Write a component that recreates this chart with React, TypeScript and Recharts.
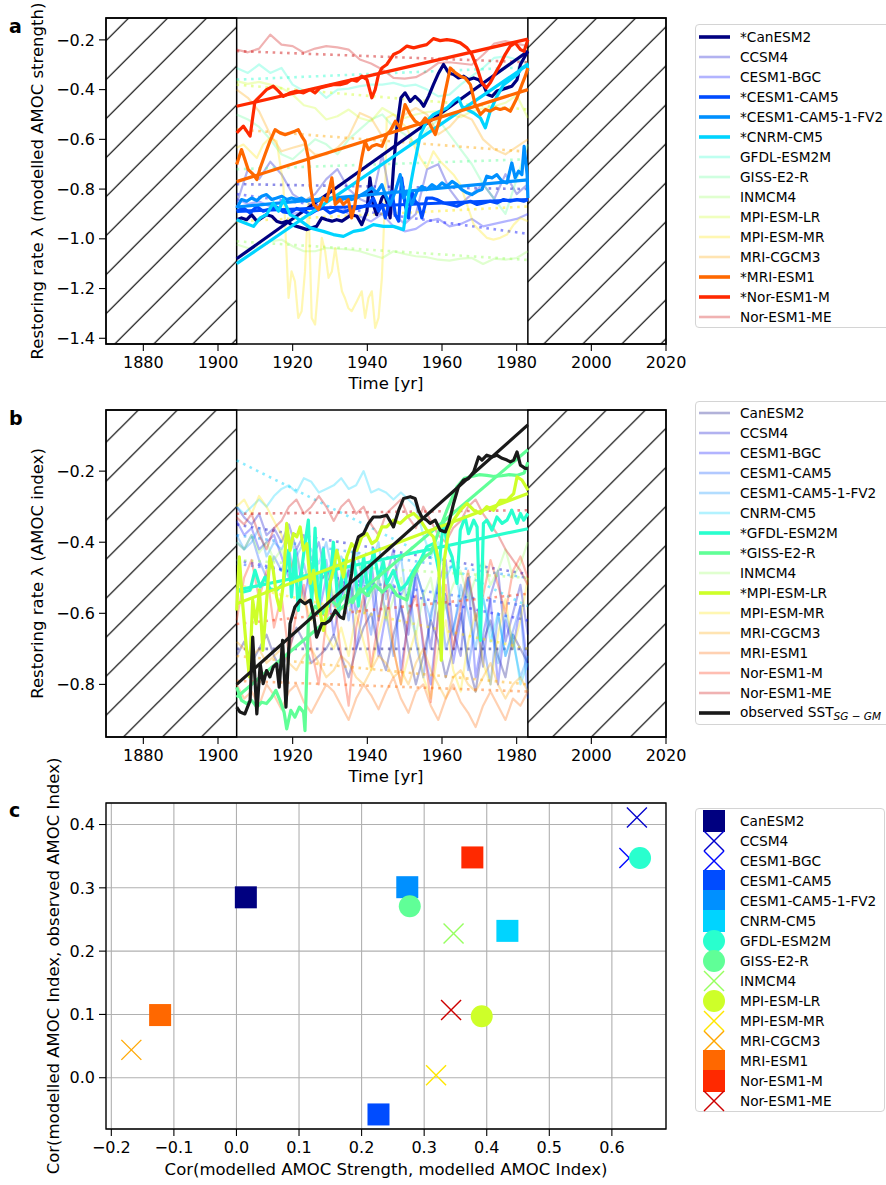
import React from 'react';
import {
  LineChart, Line, XAxis, YAxis, ReferenceArea, Legend, Label,
  ScatterChart, Scatter, CartesianGrid,
} from 'recharts';

const FONT = '"DejaVu Sans", "Liberation Sans", sans-serif';

// ---------------- shared categories ----------------
const MODELS = ['CanESM2', 'CCSM4', 'CESM1-BGC', 'CESM1-CAM5', 'CESM1-CAM5-1-FV2', 'CNRM-CM5', 'GFDL-ESM2M', 'GISS-E2-R', 'INMCM4', 'MPI-ESM-LR', 'MPI-ESM-MR', 'MRI-CGCM3', 'MRI-ESM1', 'Nor-ESM1-M', 'Nor-ESM1-ME'];
const COLORS = ['#000080', '#0000cd', '#0008ff', '#004cff', '#0090ff', '#00d4ff', '#29ffce', '#60ff97', '#97ff60', '#ceff29', '#ffe600', '#ffa700', '#ff6800', '#ff2900', '#cd0000'];
const A_HIGHLIGHT = [0, 3, 4, 5, 12, 13];
const B_HIGHLIGHT = [6, 7, 9];
const WINDOW = [1905, 1983];

const YEAR_TICKS = [1880, 1900, 1920, 1940, 1960, 1980, 2000, 2020];
const A_Y_TICKS = [-1.4, -1.2, -1.0, -0.8, -0.6, -0.4, -0.2];
const B_Y_TICKS = [-0.8, -0.6, -0.4, -0.2];
const C_X_TICKS = [-0.2, -0.1, 0, 0.1, 0.2, 0.3, 0.4, 0.5, 0.6];
const C_Y_TICKS = [0, 0.1, 0.2, 0.3, 0.4];

// ---------------- panel a : modelled AMOC strength ----------------
const YEARS_A = [1905, 1908, 1911, 1914, 1917, 1920, 1923, 1926, 1929, 1932, 1935, 1938, 1941, 1944, 1947, 1950, 1953, 1956, 1959, 1962, 1965, 1968, 1971, 1974, 1977, 1980, 1983];

const A_CANESM2 = [[1905, -0.923], [1906.3, -0.916], [1907.7, -0.923], [1909, -0.903], [1910.4, -0.929], [1911.7, -0.916], [1913, -0.903], [1914.4, -0.909], [1915.7, -0.929], [1917.1, -0.936], [1918.4, -0.929], [1919.7, -0.943], [1921.1, -0.95], [1922.4, -0.956], [1923.8, -0.963], [1925.1, -0.956], [1926.4, -0.95], [1927.8, -0.916], [1929.1, -0.923], [1930.5, -0.929], [1931.8, -0.923], [1933.2, -0.929], [1934.5, -0.916], [1935.8, -0.903], [1937.2, -0.909], [1938.5, -0.943], [1939.9, -0.889], [1940.7, -0.755], [1941.6, -0.862], [1942.5, -0.903], [1943.9, -0.836], [1944.6, -0.82], [1945.4, -0.86], [1946.1, -0.916], [1947, -0.715], [1947.9, -0.554], [1949, -0.433], [1950.1, -0.413], [1951.5, -0.447], [1952.8, -0.427], [1954.2, -0.447], [1955.1, -0.467], [1956.4, -0.427], [1957.7, -0.38], [1959.1, -0.333], [1960.4, -0.299], [1961.8, -0.333], [1963.1, -0.339], [1964.4, -0.353], [1965.8, -0.346], [1967.1, -0.36], [1968.5, -0.353], [1969.8, -0.36], [1971.1, -0.38], [1972.2, -0.42], [1973.4, -0.427], [1974.7, -0.406], [1976.1, -0.4], [1977.4, -0.393], [1978.7, -0.386], [1980.1, -0.36], [1981, -0.299], [1982, -0.272], [1983, -0.246]];
const A_CCSM4 = [-0.86, -0.72, -0.76, -0.69, -0.74, -0.82, -0.85, -0.82, -0.76, -0.72, -0.8, -0.84, -0.86, -0.66, -0.9, -0.94, -0.9, -0.72, -0.7, -0.8, -0.86, -0.82, -0.78, -0.84, -0.74, -0.82, -0.78];
const A_CESM1_BGC = [-0.84, -0.86, -0.85, -0.87, -0.88, -0.9, -0.89, -0.86, -0.88, -0.87, -0.9, -0.91, -0.93, -0.9, -0.95, -0.97, -0.96, -0.93, -0.92, -0.95, -0.94, -0.92, -0.95, -0.94, -0.93, -0.92, -0.9];
const A_CESM1_CAM5 = [[1905, -0.889], [1906.8, -0.876], [1908.6, -0.896], [1910.4, -0.87], [1912.1, -0.889], [1913.9, -0.88], [1915.7, -0.872], [1917.5, -0.892], [1919.3, -0.896], [1921.1, -0.878], [1922.9, -0.889], [1924.7, -0.9], [1926.4, -0.885], [1928.2, -0.876], [1930, -0.896], [1931.8, -0.884], [1933.6, -0.893], [1935.4, -0.882], [1937.2, -0.878], [1939, -0.87], [1940.3, -0.862], [1941.6, -0.836], [1943, -0.889], [1944, -0.862], [1944.8, -0.916], [1945.7, -0.862], [1946.6, -0.809], [1947.5, -0.903], [1948.4, -0.929], [1949.2, -0.755], [1950.1, -0.862], [1951, -0.916], [1951.9, -0.809], [1952.8, -0.849], [1953.7, -0.862], [1954.6, -0.916], [1955.9, -0.836], [1957.3, -0.836], [1958.6, -0.842], [1960.4, -0.856], [1962.2, -0.862], [1964, -0.869], [1965.8, -0.856], [1967.6, -0.849], [1969.4, -0.862], [1971.1, -0.856], [1972.9, -0.849], [1974.7, -0.856], [1976.5, -0.842], [1978.3, -0.849], [1980.1, -0.842], [1981.9, -0.849], [1983, -0.842]];
const A_CESM1_CAM5_FV2 = [[1905, -0.876], [1906.3, -0.842], [1907.7, -0.849], [1909, -0.836], [1910.4, -0.846], [1911.7, -0.829], [1913, -0.822], [1914.4, -0.842], [1915.7, -0.836], [1917.1, -0.829], [1918.4, -0.842], [1919.7, -0.836], [1921.1, -0.842], [1922.4, -0.836], [1923.8, -0.849], [1925.1, -0.842], [1926.4, -0.849], [1927.8, -0.836], [1929.1, -0.842], [1930.5, -0.836], [1931.8, -0.846], [1933.2, -0.842], [1934.5, -0.836], [1935.8, -0.842], [1937.2, -0.836], [1938.5, -0.822], [1939.9, -0.809], [1941.2, -0.795], [1942.5, -0.815], [1943.9, -0.782], [1944.8, -0.822], [1946.1, -0.862], [1947.5, -0.809], [1948.8, -0.742], [1949.7, -0.836], [1950.6, -0.809], [1951.9, -0.862], [1953.3, -0.809], [1954.6, -0.789], [1955.9, -0.802], [1957.3, -0.782], [1958.6, -0.795], [1960, -0.775], [1961.3, -0.789], [1962.7, -0.769], [1964, -0.782], [1965.3, -0.802], [1966.7, -0.815], [1968, -0.822], [1969.4, -0.809], [1970.7, -0.802], [1972, -0.748], [1973.4, -0.755], [1974.7, -0.742], [1976.1, -0.769], [1977.4, -0.775], [1978.7, -0.695], [1979.6, -0.755], [1980.5, -0.728], [1981.4, -0.742], [1982, -0.628], [1982.8, -0.742], [1983, -0.836]];
const A_CNRM_CM5 = [[1905, -0.923], [1907.2, -0.936], [1909.5, -0.95], [1911.3, -0.916], [1913, -0.903], [1914.8, -0.856], [1916.2, -0.889], [1917.5, -0.842], [1919.3, -0.903], [1921.1, -0.916], [1922.9, -0.936], [1924.7, -0.956], [1926.4, -0.963], [1928.2, -0.97], [1930.9, -0.983], [1933.6, -0.99], [1936.3, -0.97], [1939, -0.963], [1941.6, -0.943], [1944.3, -0.95], [1947, -0.95], [1949.7, -0.963], [1950.6, -0.862], [1952.4, -0.715], [1954.2, -0.581], [1955.9, -0.527], [1957.7, -0.5], [1959.5, -0.487], [1961.3, -0.474], [1963.1, -0.447], [1964.4, -0.433], [1965.3, -0.467], [1966.7, -0.48], [1968.5, -0.494], [1970.3, -0.514], [1971.6, -0.554], [1972.9, -0.487], [1974.7, -0.427], [1976.5, -0.38], [1978.3, -0.36], [1980.1, -0.339], [1981.4, -0.313], [1982.8, -0.299], [1983, -0.326]];
const A_GFDL_ESM2M = [-0.313, -0.333, -0.299, -0.333, -0.313, -0.38, -0.406, -0.393, -0.433, -0.4, -0.396, -0.386, -0.38, -0.38, -0.373, -0.386, -0.38, -0.4, -0.427, -0.42, -0.38, -0.346, -0.313, -0.272, -0.266, -0.279, -0.293];
const A_GISS_E2_R = [-0.5, -0.52, -0.55, -0.6, -0.66, -0.68, -0.64, -0.6, -0.62, -0.66, -0.6, -0.56, -0.52, -0.5, -0.55, -0.58, -0.62, -0.56, -0.52, -0.58, -0.64, -0.7, -0.78, -0.84, -0.9, -0.76, -0.62];
const A_INMCM4 = [-1.023, -1.037, -1.034, -1.01, -1.003, -1.03, -1.05, -1.05, -1.037, -1.04, -1.043, -1.05, -1.064, -1.077, -1.05, -1.061, -1.07, -1.074, -1.084, -1.088, -1.08, -1.077, -1.101, -1.08, -1.084, -1.077, -1.05];
const A_MPI_ESM_LR = [-0.366, -0.377, -0.369, -0.38, -0.393, -0.42, -0.463, -0.474, -0.52, -0.507, -0.48, -0.514, -0.527, -0.474, -0.5, -0.514, -0.5, -0.49, -0.487, -0.5, -0.511, -0.487, -0.476, -0.467, -0.453, -0.423, -0.514];
const A_MPI_ESM_MR = [[1905, -0.634], [1906.8, -0.621], [1908.6, -0.648], [1910.4, -0.675], [1912.1, -0.621], [1913.9, -0.594], [1915.7, -0.608], [1917.5, -0.782], [1918.9, -1.238], [1919.7, -1.131], [1920.6, -1.171], [1921.5, -1.318], [1922.4, -1.291], [1923.3, -1.131], [1924.2, -0.836], [1925.1, -1.318], [1926, -1.345], [1926.9, -1.184], [1927.8, -0.996], [1928.7, -1.05], [1929.6, -1.157], [1930.5, -1.131], [1931.4, -1.037], [1932.3, -1.131], [1933.2, -1.211], [1934, -1.238], [1934.9, -1.278], [1935.8, -1.291], [1937.2, -1.251], [1938.5, -1.211], [1939.4, -1.318], [1940.3, -1.238], [1941.2, -1.211], [1942.1, -1.358], [1943, -1.318], [1943.9, -1.157], [1944.8, -0.809], [1945.2, -0.514], [1947, -0.5], [1948.8, -0.527], [1950.6, -0.554], [1952.4, -0.621], [1954.2, -0.675], [1955.9, -0.715], [1957.7, -0.648], [1959.5, -0.688], [1961.3, -0.715], [1963.1, -0.742], [1964.9, -0.782], [1966.7, -0.862], [1968.5, -0.943], [1970.3, -0.97], [1972, -0.996], [1973.8, -1.003], [1975.6, -0.996], [1977.4, -0.983], [1979.2, -0.943], [1981, -0.916], [1983, -0.929]];
const A_MRI_CGCM3 = [-0.4, -0.433, -0.487, -0.581, -0.648, -0.634, -0.621, -0.661, -0.661, -0.634, -0.588, -0.494, -0.514, -0.588, -0.554, -0.5, -0.474, -0.5, -0.58, -0.55, -0.5, -0.52, -0.6, -0.64, -0.66, -0.63, -0.6];
const A_MRI_ESM1 = [[1905, -0.701], [1906.3, -0.641], [1907.2, -0.681], [1908.1, -0.722], [1909.5, -0.742], [1910.4, -0.762], [1911.3, -0.715], [1912.6, -0.661], [1913.9, -0.608], [1915.3, -0.561], [1916.6, -0.574], [1918, -0.581], [1919.3, -0.574], [1920.6, -0.567], [1921.5, -0.561], [1922.4, -0.587], [1923.3, -0.608], [1924.2, -0.675], [1924.8, -0.795], [1925.6, -0.862], [1926.9, -0.882], [1928.2, -0.836], [1929.1, -0.849], [1930.5, -0.755], [1931.4, -0.862], [1932.7, -0.842], [1933.6, -0.862], [1934.9, -0.842], [1935.8, -0.916], [1936.7, -0.862], [1937.6, -0.755], [1938.5, -0.675], [1939.4, -0.608], [1940.3, -0.641], [1941.2, -0.628], [1942.5, -0.621], [1943.9, -0.628], [1945.2, -0.581], [1946.1, -0.567], [1947.5, -0.527], [1948.8, -0.554], [1950.1, -0.46], [1951.5, -0.5], [1952.8, -0.527], [1954.2, -0.541], [1955.5, -0.514], [1956.8, -0.541], [1958.2, -0.581], [1959.5, -0.514], [1960.9, -0.406], [1962.2, -0.313], [1963.6, -0.333], [1964.9, -0.346], [1966.2, -0.353], [1967.6, -0.38], [1968.9, -0.46], [1970.3, -0.5], [1971.6, -0.48], [1972.9, -0.487], [1974.3, -0.474], [1975.6, -0.48], [1976.9, -0.474], [1978.3, -0.487], [1979.2, -0.46], [1980.1, -0.433], [1981.4, -0.38], [1982.3, -0.346], [1983, -0.313]];
const A_NOR_ESM1_M = [[1905, -0.574], [1906.8, -0.547], [1908.6, -0.587], [1909.9, -0.447], [1911.7, -0.42], [1913, -0.4], [1914.8, -0.386], [1916.2, -0.406], [1917.5, -0.427], [1919.3, -0.413], [1921.1, -0.406], [1922.9, -0.413], [1924.7, -0.4], [1926, -0.413], [1927.3, -0.393], [1929.1, -0.386], [1930.9, -0.38], [1932.7, -0.38], [1934.5, -0.373], [1935.8, -0.36], [1937.2, -0.366], [1938.5, -0.346], [1939.9, -0.36], [1941.2, -0.433], [1942.1, -0.4], [1943, -0.339], [1943.9, -0.313], [1945.2, -0.299], [1947, -0.259], [1948.8, -0.246], [1950.6, -0.225], [1952.4, -0.232], [1954.2, -0.225], [1955.9, -0.219], [1957.7, -0.195], [1959.5, -0.203], [1961.3, -0.199], [1963.1, -0.203], [1964.9, -0.212], [1966.7, -0.232], [1968, -0.259], [1969.4, -0.313], [1970.7, -0.373], [1971.9, -0.393], [1972.9, -0.373], [1974.3, -0.333], [1975.6, -0.299], [1976.9, -0.259], [1978.3, -0.225], [1979.6, -0.212], [1981, -0.239], [1982, -0.246], [1983, -0.199]];
const A_NOR_ESM1_ME = [-0.239, -0.25, -0.235, -0.179, -0.219, -0.225, -0.252, -0.235, -0.225, -0.23, -0.239, -0.279, -0.295, -0.319, -0.353, -0.356, -0.35, -0.326, -0.293, -0.29, -0.295, -0.3, -0.26, -0.215, -0.205, -0.215, -0.225];
const A_TREND_START = [-1.08, -0.78, -0.82, -0.89, -0.872, -1.10, -0.36, -0.72, -1.01, -0.38, -0.93, -0.56, -0.77, -0.467, -0.245];
const A_TREND_END = [-0.246, -0.80, -0.98, -0.842, -0.763, -0.30, -0.31, -0.68, -1.085, -0.48, -0.87, -0.65, -0.40, -0.197, -0.29];

// ---------------- panel b : modelled AMOC index ----------------
const YEARS_B = [1905, 1907, 1909, 1911, 1913, 1915, 1917, 1919, 1921, 1923, 1925, 1927, 1929, 1931, 1933, 1935, 1937, 1939, 1941, 1943, 1945, 1947, 1949, 1951, 1953, 1955, 1957, 1959, 1961, 1963, 1965, 1967, 1969, 1971, 1973, 1975, 1977, 1979, 1981, 1983];

const B_CANESM2 = [-0.72, -0.68, -0.74, -0.7, -0.66, -0.72, -0.76, -0.7, -0.64, -0.68, -0.74, -0.72, -0.7, -0.66, -0.72, -0.78, -0.7, -0.64, -0.6, -0.7, -0.76, -0.66, -0.58, -0.7, -0.8, -0.72, -0.62, -0.68, -0.78, -0.7, -0.6, -0.74, -0.82, -0.68, -0.62, -0.72, -0.78, -0.66, -0.7, -0.74];
const B_CCSM4 = [-0.3, -0.33, -0.35, -0.32, -0.38, -0.36, -0.4, -0.35, -0.42, -0.38, -0.45, -0.4, -0.5, -0.44, -0.55, -0.48, -0.6, -0.5, -0.45, -0.62, -0.5, -0.42, -0.58, -0.66, -0.48, -0.55, -0.7, -0.52, -0.45, -0.65, -0.72, -0.5, -0.6, -0.75, -0.55, -0.48, -0.68, -0.6, -0.52, -0.66];
const B_CESM1_BGC = [-0.34, -0.38, -0.36, -0.42, -0.4, -0.38, -0.44, -0.5, -0.42, -0.56, -0.46, -0.6, -0.5, -0.66, -0.55, -0.48, -0.7, -0.58, -0.5, -0.72, -0.6, -0.52, -0.76, -0.62, -0.5, -0.7, -0.8, -0.6, -0.55, -0.74, -0.62, -0.5, -0.78, -0.66, -0.56, -0.8, -0.62, -0.7, -0.58, -0.76];
const B_CESM1_CAM5 = [-0.4, -0.42, -0.38, -0.45, -0.5, -0.44, -0.48, -0.42, -0.52, -0.46, -0.55, -0.5, -0.45, -0.58, -0.5, -0.62, -0.48, -0.55, -0.66, -0.5, -0.6, -0.72, -0.55, -0.5, -0.68, -0.78, -0.6, -0.52, -0.7, -0.64, -0.56, -0.76, -0.62, -0.68, -0.8, -0.6, -0.72, -0.65, -0.58, -0.84];
const B_CESM1_CAM5_FV2 = [-0.38, -0.42, -0.4, -0.36, -0.44, -0.4, -0.42, -0.38, -0.44, -0.4, -0.42, -0.46, -0.4, -0.5, -0.44, -0.48, -0.42, -0.52, -0.46, -0.4, -0.56, -0.5, -0.44, -0.6, -0.48, -0.55, -0.62, -0.5, -0.58, -0.66, -0.52, -0.6, -0.7, -0.56, -0.64, -0.74, -0.6, -0.68, -0.78, -0.72];
const B_CNRM_CM5 = [-0.3, -0.32, -0.3, -0.28, -0.3, -0.27, -0.25, -0.24, -0.26, -0.22, -0.23, -0.26, -0.25, -0.24, -0.22, -0.25, -0.24, -0.2, -0.26, -0.25, -0.26, -0.28, -0.26, -0.28, -0.3, -0.38, -0.44, -0.4, -0.5, -0.46, -0.56, -0.5, -0.62, -0.55, -0.68, -0.6, -0.72, -0.66, -0.8, -0.74];
const B_GFDL_ESM2M = [[1905, -0.535], [1906.8, -0.54], [1908.6, -0.535], [1909.9, -0.479], [1911.3, -0.526], [1912.6, -0.498], [1913.9, -0.531], [1915.7, -0.535], [1917.5, -0.516], [1918.9, -0.423], [1919.7, -0.554], [1920.6, -0.423], [1921.5, -0.592], [1922.4, -0.479], [1923.3, -0.404], [1924.2, -0.338], [1925.1, -0.573], [1926, -0.36], [1926.9, -0.6], [1928.2, -0.42], [1929.6, -0.58], [1930.9, -0.4], [1932.3, -0.6], [1933.6, -0.45], [1934.9, -0.56], [1936.3, -0.43], [1937.6, -0.58], [1939, -0.44], [1940.3, -0.55], [1941.6, -0.42], [1943, -0.5], [1944.3, -0.455], [1945.2, -0.516], [1947, -0.479], [1948.8, -0.535], [1950.6, -0.516], [1952.4, -0.479], [1954.2, -0.451], [1955.9, -0.413], [1957.7, -0.404], [1959.1, -0.479], [1960.4, -0.338], [1961.3, -0.404], [1962.7, -0.441], [1964, -0.516], [1964.9, -0.366], [1966.2, -0.329], [1967.1, -0.376], [1968.5, -0.338], [1969.4, -0.357], [1970.3, -0.676], [1971.1, -0.347], [1972, -0.338], [1973.4, -0.366], [1974.7, -0.329], [1976.1, -0.347], [1977.4, -0.338], [1978.7, -0.31], [1980.1, -0.347], [1981, -0.319], [1981.9, -0.338], [1983, -0.319]];
const B_GISS_E2_R = [[1905, -0.808], [1906.3, -0.845], [1907.7, -0.854], [1909, -0.845], [1910.4, -0.864], [1911.7, -0.85], [1913, -0.854], [1914.4, -0.836], [1915.5, -0.817], [1916.6, -0.845], [1917.7, -0.878], [1918.4, -0.925], [1919.5, -0.873], [1920.6, -0.892], [1921.8, -0.864], [1922.9, -0.878], [1923.3, -0.93], [1924.2, -0.62], [1926, -0.58], [1928, -0.6], [1930, -0.56], [1932, -0.58], [1934, -0.55], [1936, -0.57], [1938, -0.53], [1940, -0.55], [1942, -0.52], [1944, -0.54], [1946, -0.52], [1948, -0.55], [1950.6, -0.563], [1952, -0.5], [1954, -0.46], [1955.5, -0.44], [1957, -0.43], [1958.6, -0.385], [1961.3, -0.31], [1964, -0.244], [1966, -0.22], [1968, -0.215], [1970, -0.21], [1972, -0.212], [1974, -0.215], [1976, -0.213], [1978, -0.21], [1980, -0.212], [1982, -0.205], [1983, -0.175]];
const B_INMCM4 = [-0.4, -0.42, -0.38, -0.43, -0.4, -0.45, -0.42, -0.48, -0.44, -0.5, -0.46, -0.52, -0.48, -0.55, -0.5, -0.58, -0.52, -0.6, -0.55, -0.5, -0.62, -0.56, -0.5, -0.6, -0.66, -0.55, -0.5, -0.62, -0.58, -0.52, -0.48, -0.56, -0.5, -0.45, -0.52, -0.48, -0.42, -0.5, -0.46, -0.4];
const B_MPI_ESM_LR = [[1905, -0.592], [1905.7, -0.441], [1906.6, -0.573], [1907.5, -0.685], [1908.4, -0.779], [1909.3, -0.563], [1910.2, -0.629], [1911.1, -0.535], [1912, -0.704], [1912.9, -0.582], [1913.9, -0.441], [1914.8, -0.479], [1915.7, -0.554], [1916.6, -0.592], [1917.5, -0.516], [1918.4, -0.347], [1919.3, -0.423], [1920.2, -0.376], [1921.1, -0.385], [1922, -0.357], [1922.9, -0.423], [1923.8, -0.404], [1924.7, -0.516], [1925.6, -0.479], [1926.4, -0.554], [1927.3, -0.592], [1928.2, -0.648], [1929.1, -0.592], [1930, -0.516], [1930.9, -0.479], [1931.8, -0.423], [1932.7, -0.46], [1933.6, -0.498], [1934.5, -0.441], [1935.8, -0.404], [1937.2, -0.423], [1938.5, -0.385], [1939.9, -0.376], [1941.2, -0.404], [1942.5, -0.394], [1943.9, -0.357], [1945.2, -0.357], [1947, -0.338], [1948.8, -0.347], [1950.6, -0.329], [1952.4, -0.319], [1954.2, -0.338], [1955.9, -0.366], [1957.7, -0.385], [1959.1, -0.451], [1959.8, -0.732], [1960.6, -0.451], [1961.8, -0.366], [1963.1, -0.338], [1964.9, -0.31], [1966.7, -0.291], [1968.5, -0.31], [1970.3, -0.319], [1972, -0.3], [1973.8, -0.31], [1975.6, -0.282], [1977.4, -0.282], [1979.2, -0.263], [1980.1, -0.216], [1981.4, -0.225], [1982.8, -0.249], [1983, -0.254]];
const B_MPI_ESM_MR = [-0.3, -0.28, -0.32, -0.27, -0.3, -0.34, -0.38, -0.44, -0.5, -0.56, -0.62, -0.58, -0.66, -0.7, -0.64, -0.72, -0.6, -0.68, -0.76, -0.66, -0.58, -0.7, -0.8, -0.72, -0.65, -0.78, -0.84, -0.7, -0.62, -0.76, -0.82, -0.68, -0.6, -0.74, -0.8, -0.66, -0.56, -0.7, -0.62, -0.5];
const B_MRI_CGCM3 = [-0.68, -0.7, -0.72, -0.7, -0.74, -0.72, -0.7, -0.74, -0.76, -0.72, -0.7, -0.74, -0.78, -0.76, -0.72, -0.74, -0.78, -0.8, -0.76, -0.72, -0.74, -0.78, -0.76, -0.8, -0.74, -0.7, -0.76, -0.8, -0.84, -0.78, -0.76, -0.8, -0.82, -0.78, -0.74, -0.8, -0.84, -0.8, -0.78, -0.82];
const B_MRI_ESM1 = [-0.8, -0.84, -0.82, -0.86, -0.8, -0.83, -0.87, -0.82, -0.8, -0.85, -0.88, -0.84, -0.8, -0.82, -0.86, -0.9, -0.84, -0.8, -0.83, -0.87, -0.82, -0.78, -0.84, -0.88, -0.82, -0.8, -0.86, -0.9, -0.84, -0.8, -0.85, -0.88, -0.92, -0.86, -0.82, -0.86, -0.9, -0.84, -0.86, -0.82];
const B_NOR_ESM1_M = [-0.62, -0.5, -0.45, -0.56, -0.48, -0.64, -0.55, -0.72, -0.6, -0.52, -0.7, -0.8, -0.62, -0.55, -0.72, -0.86, -0.64, -0.55, -0.75, -0.62, -0.5, -0.7, -0.8, -0.6, -0.55, -0.68, -0.85, -0.6, -0.52, -0.7, -0.58, -0.48, -0.62, -0.55, -0.45, -0.52, -0.6, -0.48, -0.44, -0.5];
const B_NOR_ESM1_ME = [-0.33, -0.35, -0.32, -0.38, -0.42, -0.36, -0.34, -0.3, -0.28, -0.32, -0.3, -0.27, -0.3, -0.34, -0.3, -0.28, -0.32, -0.3, -0.35, -0.38, -0.32, -0.3, -0.28, -0.33, -0.36, -0.3, -0.34, -0.38, -0.4, -0.36, -0.34, -0.3, -0.28, -0.32, -0.35, -0.38, -0.42, -0.45, -0.48, -0.52];
const B_OBSERVED = [[1905, -0.864], [1905.9, -0.878], [1907.2, -0.883], [1908.6, -0.845], [1909.3, -0.667], [1910.4, -0.883], [1911.3, -0.742], [1912.1, -0.798], [1913, -0.761], [1913.9, -0.779], [1914.8, -0.751], [1915.7, -0.742], [1916.4, -0.808], [1917.3, -0.676], [1918.2, -0.864], [1919.3, -0.629], [1920.6, -0.582], [1922, -0.563], [1923.3, -0.573], [1924.7, -0.563], [1925.7, -0.61], [1926.4, -0.667], [1927.8, -0.629], [1928.7, -0.629], [1930, -0.62], [1931.4, -0.592], [1932.7, -0.61], [1933.6, -0.615], [1934.5, -0.563], [1935.8, -0.488], [1936.5, -0.423], [1937.6, -0.385], [1939, -0.376], [1940.3, -0.347], [1941.6, -0.329], [1943.4, -0.329], [1945.2, -0.324], [1947, -0.357], [1948.4, -0.31], [1949.7, -0.277], [1951.5, -0.272], [1952.8, -0.277], [1953.7, -0.31], [1954.6, -0.329], [1955.9, -0.338], [1956.8, -0.347], [1958.2, -0.338], [1959.5, -0.366], [1960.9, -0.371], [1961.8, -0.347], [1963.1, -0.291], [1964.4, -0.244], [1965.8, -0.225], [1967.1, -0.221], [1968.5, -0.202], [1969.8, -0.16], [1970.7, -0.169], [1972, -0.155], [1973.4, -0.16], [1974.7, -0.155], [1976.1, -0.164], [1977.4, -0.169], [1978.3, -0.174], [1979.2, -0.169], [1980.1, -0.146], [1981, -0.183], [1982.3, -0.192], [1983, -0.192]];
const B_TREND_START = [-0.70, -0.35, -0.45, -0.46, -0.38, -0.17, -0.535, -0.836, -0.45, -0.573, -0.52, -0.72, -0.79, -0.63, -0.32];
const B_TREND_END = [-0.70, -0.49, -0.62, -0.58, -0.50, -0.58, -0.362, -0.14, -0.50, -0.263, -0.70, -0.80, -0.82, -0.545, -0.31];
const OBS_TREND = [-0.80, -0.07];

// ---------------- panel c : correlations ----------------
const C_X = [0.015, 0.640, 0.628, 0.227, 0.273, 0.433, 0.645, 0.277, 0.347, 0.392, 0.319, -0.168, -0.122, 0.377, 0.343];
const C_Y = [0.285, 0.411, 0.347, -0.058, 0.301, 0.232, 0.347, 0.271, 0.228, 0.097, 0.004, 0.044, 0.099, 0.348, 0.107];
const C_MARKERS = ['s', 'x', 'x', 's', 's', 's', 'o', 'o', 'x', 'o', 'x', 'x', 's', 's', 'x'];

// ---------------- helpers ----------------
type P = { x: number; y: number };
const pairs = (a: number[][]): P[] => a.map(([x, y]) => ({ x, y }));
const onGrid = (years: number[], vals: number[]): P[] => vals.map((y, i) => ({ x: years[i], y }));
const trend = (s: number, e: number): P[] => [{ x: WINDOW[0], y: s }, { x: WINDOW[1], y: e }];
const fmt1 = (v: number) => (v < -1e-9 ? '\u2212' : '') + Math.abs(v).toFixed(1);

const A_SERIES: P[][] = [
  pairs(A_CANESM2), onGrid(YEARS_A, A_CCSM4), onGrid(YEARS_A, A_CESM1_BGC), pairs(A_CESM1_CAM5),
  pairs(A_CESM1_CAM5_FV2), pairs(A_CNRM_CM5), onGrid(YEARS_A, A_GFDL_ESM2M), onGrid(YEARS_A, A_GISS_E2_R),
  onGrid(YEARS_A, A_INMCM4), onGrid(YEARS_A, A_MPI_ESM_LR), pairs(A_MPI_ESM_MR), onGrid(YEARS_A, A_MRI_CGCM3),
  pairs(A_MRI_ESM1), pairs(A_NOR_ESM1_M), onGrid(YEARS_A, A_NOR_ESM1_ME),
];
const B_SERIES: P[][] = [
  onGrid(YEARS_B, B_CANESM2), onGrid(YEARS_B, B_CCSM4), onGrid(YEARS_B, B_CESM1_BGC), onGrid(YEARS_B, B_CESM1_CAM5),
  onGrid(YEARS_B, B_CESM1_CAM5_FV2), onGrid(YEARS_B, B_CNRM_CM5), pairs(B_GFDL_ESM2M), pairs(B_GISS_E2_R),
  onGrid(YEARS_B, B_INMCM4), pairs(B_MPI_ESM_LR), onGrid(YEARS_B, B_MPI_ESM_MR), onGrid(YEARS_B, B_MRI_CGCM3),
  onGrid(YEARS_B, B_MRI_ESM1), onGrid(YEARS_B, B_NOR_ESM1_M), onGrid(YEARS_B, B_NOR_ESM1_ME),
];

const A_DOMAIN = [-1.423, -0.112];
const B_DOMAIN = [-0.948, -0.028];
const C_XDOMAIN = [-0.2085, 0.6865];
const C_YDOMAIN = [-0.081, 0.434];

const TICK_STYLE = { fill: '#000', fontSize: 16, fontFamily: FONT };
const TICK_LINE = { stroke: '#000', strokeWidth: 1.1 };

function seriesLines(prefix: string, series: P[][], highlight: number[], ts: number[], te: number[]) {
  const faint: React.ReactElement[] = [];
  const strong: React.ReactElement[] = [];
  series.forEach((pts, i) => {
    const c = COLORS[i];
    if (highlight.includes(i)) {
      strong.push(<Line key={`${prefix}s${i}`} data={pts} dataKey="y" stroke={c} strokeWidth={3.2} strokeLinejoin="round" dot={false} activeDot={false} isAnimationActive={false} />);
      strong.push(<Line key={`${prefix}t${i}`} data={trend(ts[i], te[i])} dataKey="y" stroke={c} strokeWidth={3.2} dot={false} activeDot={false} isAnimationActive={false} />);
    } else {
      faint.push(<Line key={`${prefix}s${i}`} data={pts} dataKey="y" stroke={c} strokeOpacity={0.3} strokeWidth={2.2} strokeLinejoin="round" dot={false} activeDot={false} isAnimationActive={false} />);
      faint.push(<Line key={`${prefix}t${i}`} data={trend(ts[i], te[i])} dataKey="y" stroke={c} strokeOpacity={0.45} strokeWidth={2.6} strokeDasharray="2.6 4.6" dot={false} activeDot={false} isAnimationActive={false} />);
    }
  });
  return [...faint, ...strong];
}

type LegendEntry = { label: React.ReactNode; color: string; strong: boolean; marker?: string };

function LegendBox({ entries, width, height, firstY, markers }: { entries: LegendEntry[]; width: number; height: number; firstY: number; markers?: boolean }) {
  return (
    <div style={{ position: 'relative', width, height, boxSizing: 'border-box', border: '1px solid #d4d4d4', borderRadius: 4, background: '#fff', fontFamily: FONT, fontSize: 13.7, color: '#000' }}>
      {entries.map((e, i) => (
        <div key={i} style={{ position: 'absolute', left: 0, top: firstY + i * 20 - 10, height: 20, display: 'flex', alignItems: 'center', whiteSpace: 'nowrap' }}>
          <svg width={40} height={20} style={{ display: 'block', overflow: 'visible' }}>
            {markers ? <MarkerGlyph kind={e.marker || 's'} color={e.color} cx={18} cy={10} /> : (
              <line x1={3} x2={34} y1={10} y2={10} stroke={e.color} strokeOpacity={e.strong ? 1 : 0.3} strokeWidth={e.strong ? 3.6 : 2.6} />
            )}
          </svg>
          <span style={{ marginLeft: 4 }}>{e.label}</span>
        </div>
      ))}
    </div>
  );
}

function MarkerGlyph({ kind, color, cx, cy }: { kind: string; color: string; cx: number; cy: number }) {
  if (kind === 's') return <rect x={cx - 11} y={cy - 11} width={22} height={22} fill={color} />;
  if (kind === 'o') return <circle cx={cx} cy={cy} r={11} fill={color} />;
  return (
    <g stroke={color} strokeWidth={1.4}>
      <line x1={cx - 10} y1={cy - 10} x2={cx + 10} y2={cy + 10} />
      <line x1={cx - 10} y1={cy + 10} x2={cx + 10} y2={cy - 10} />
    </g>
  );
}

const titleStyle = { fontFamily: FONT, fontSize: 16.5, fill: '#000' } as const;
const letterStyle = { fontFamily: FONT, fontSize: 19, fontWeight: 700, fill: '#000' } as const;

function XTitle({ px, py, text }: { px: number; py: number; text: string }) {
  return <text x={px} y={py} textAnchor="middle" style={titleStyle}>{text}</text>;
}
function YTitle({ px, py, text }: { px: number; py: number; text: string }) {
  return <text x={px} y={py} textAnchor="middle" dominantBaseline="central" transform={`rotate(-90, ${px}, ${py})`} style={titleStyle}>{text}</text>;
}
function Letter({ px, py, text }: { px: number; py: number; text: string }) {
  return <text x={px} y={py} style={letterStyle}>{text}</text>;
}

const A_LEGEND: LegendEntry[] = MODELS.map((m, i) => ({ label: (A_HIGHLIGHT.includes(i) ? '*' : '') + m, color: COLORS[i], strong: A_HIGHLIGHT.includes(i) }));
const B_LEGEND: LegendEntry[] = [
  ...MODELS.map((m, i) => ({ label: (B_HIGHLIGHT.includes(i) ? '*' : '') + m, color: COLORS[i], strong: B_HIGHLIGHT.includes(i) })),
  { label: <span>observed SST<sub style={{ fontSize: 10.5, fontStyle: 'italic', verticalAlign: -3 }}>SG − GM</sub></span>, color: '#1a1a1a', strong: true },
];
const C_LEGEND: LegendEntry[] = MODELS.map((m, i) => ({ label: m, color: COLORS[i], strong: true, marker: C_MARKERS[i] }));

function TimePanel({ id, top, marginTop, xAxisHeight, domain, yTicks, series, highlight, ts, te, hatchShift, legend, legendTop, legendHeight, legendFirst, yTitle, yTitleY, xTitleY, letter, letterY, extra }: any) {
  return (
    <div style={{ position: 'absolute', left: 0, top }}>
      <LineChart width={886} height={400} margin={{ top: marginTop, right: 220, bottom: 0, left: 0 }}>
        <XAxis type="number" dataKey="x" domain={[1870, 2020]} ticks={YEAR_TICKS} interval={0} allowDataOverflow axisLine={false} tickLine={TICK_LINE} tickSize={7} tickMargin={6} tick={TICK_STYLE} height={xAxisHeight}>
          <Label content={() => <XTitle px={386} py={xTitleY} text="Time [yr]" />} />
        </XAxis>
        <YAxis type="number" dataKey="y" domain={domain} ticks={yTicks} interval={0} allowDataOverflow axisLine={false} tickLine={TICK_LINE} tickSize={7} tickMargin={4} tick={TICK_STYLE} tickFormatter={fmt1} width={106}>
          <Label content={() => <YTitle px={37} py={yTitleY} text={yTitle} />} />
          <Label content={() => <Letter px={9} py={letterY} text={letter} />} />
        </YAxis>
        <ReferenceArea x1={1870} x2={1905} y1={domain[0]} y2={domain[1]} fill={`url(#${id})`} fillOpacity={1} stroke="#000" strokeWidth={1.5} ifOverflow="visible" />
        <ReferenceArea x1={1983} x2={2020} y1={domain[0]} y2={domain[1]} fill={`url(#${id})`} fillOpacity={1} stroke="#000" strokeWidth={1.5} ifOverflow="visible" />
        {seriesLines(id, series, highlight, ts, te)}
        {extra}
        <ReferenceArea x1={1870} x2={2020} y1={domain[0]} y2={domain[1]} fill="none" stroke="#000" strokeWidth={1.3} ifOverflow="visible" />
        <Legend layout="vertical" align="center" verticalAlign="middle"
          wrapperStyle={{ left: 695, top: legendTop, width: 200, height: legendHeight }}
          content={() => <LegendBox entries={legend} width={200} height={legendHeight} firstY={legendFirst} />} />
      </LineChart>
    </div>
  );
}

function PanelC() {
  return (
    <div style={{ position: 'absolute', left: 0, top: 740 }}>
      <ScatterChart width={886} height={445} margin={{ top: 63, right: 220, bottom: 0, left: 0 }}>
        <CartesianGrid stroke="#b0b0b0" strokeWidth={1.1} />
        <XAxis type="number" dataKey="x" domain={C_XDOMAIN} ticks={C_X_TICKS} interval={0} allowDataOverflow axisLine={false} tickLine={TICK_LINE} tickSize={7} tickMargin={6} tick={TICK_STYLE} tickFormatter={fmt1} height={56}>
          <Label content={() => <XTitle px={386} py={435} text="Cor(modelled AMOC Strength, modelled AMOC Index)" />} />
        </XAxis>
        <YAxis type="number" dataKey="y" domain={C_YDOMAIN} ticks={C_Y_TICKS} interval={0} allowDataOverflow axisLine={false} tickLine={TICK_LINE} tickSize={7} tickMargin={4} tick={TICK_STYLE} tickFormatter={fmt1} width={106}>
          <Label content={() => <YTitle px={53} py={226} text="Cor(modelled AMOC Index, observed AMOC Index)" />} />
          <Label content={() => <Letter px={9} py={77} text="c" />} />
        </YAxis>
        {MODELS.map((m, i) => (
          <Scatter key={m} name={m} data={[{ x: C_X[i], y: C_Y[i] }]} fill={COLORS[i]} isAnimationActive={false}
            shape={(p: any) => <MarkerGlyph kind={C_MARKERS[i]} color={COLORS[i]} cx={p.cx} cy={p.cy} />} />
        ))}
        <ReferenceArea x1={C_XDOMAIN[0]} x2={C_XDOMAIN[1]} y1={C_YDOMAIN[0]} y2={C_YDOMAIN[1]} fill="none" stroke="#000" strokeWidth={1.3} ifOverflow="visible" />
        <Legend layout="vertical" align="center" verticalAlign="middle"
          wrapperStyle={{ left: 695, top: 68, width: 190, height: 304 }}
          content={() => <LegendBox entries={C_LEGEND} width={190} height={304} firstY={11.5} markers />} />
      </ScatterChart>
    </div>
  );
}

export default function App() {
  const obsLines = [
    <Line key="obs" data={pairs(B_OBSERVED)} dataKey="y" stroke="#1a1a1a" strokeWidth={3.2} strokeLinejoin="round" dot={false} activeDot={false} isAnimationActive={false} />,
    <Line key="obst" data={trend(OBS_TREND[0], OBS_TREND[1])} dataKey="y" stroke="#1a1a1a" strokeWidth={3.2} dot={false} activeDot={false} isAnimationActive={false} />,
  ];
  return (
    <div style={{ position: 'absolute', left: 0, top: 0, width: 886, height: 1185, overflow: 'hidden', background: '#fff', fontFamily: FONT }}>
      <svg width={0} height={0} style={{ position: 'absolute' }}>
        <defs>
          <pattern id="hatchA" patternUnits="userSpaceOnUse" width={39} height={39} patternTransform="translate(29.7,0)">
            <path d="M-10,10 L10,-10 M0,39 L39,0 M29,49 L49,29" stroke="#000" strokeWidth={1.2} />
          </pattern>
          <pattern id="hatchB" patternUnits="userSpaceOnUse" width={39} height={39} patternTransform="translate(2.4,0)">
            <path d="M-10,10 L10,-10 M0,39 L39,0 M29,49 L49,29" stroke="#000" strokeWidth={1.2} />
          </pattern>
        </defs>
      </svg>
      <TimePanel id="hatchA" top={0} marginTop={18} xAxisHeight={56} domain={A_DOMAIN} yTicks={A_Y_TICKS}
        series={A_SERIES} highlight={A_HIGHLIGHT} ts={A_TREND_START} te={A_TREND_END}
        legend={A_LEGEND} legendTop={24} legendHeight={304} legendFirst={11.7}
        yTitle="Restoring rate λ (modelled AMOC strength)" yTitleY={181} xTitleY={389} letter="a" letterY={33} />
      <TimePanel id="hatchB" top={390} marginTop={20} xAxisHeight={53} domain={B_DOMAIN} yTicks={B_Y_TICKS}
        series={B_SERIES} highlight={B_HIGHLIGHT} ts={B_TREND_START} te={B_TREND_END}
        legend={B_LEGEND} legendTop={11} legendHeight={324} legendFirst={10.7}
        yTitle="Restoring rate λ (AMOC index)" yTitleY={183.5} xTitleY={392} letter="b" letterY={35} extra={obsLines} />
      <PanelC />
    </div>
  );
}
